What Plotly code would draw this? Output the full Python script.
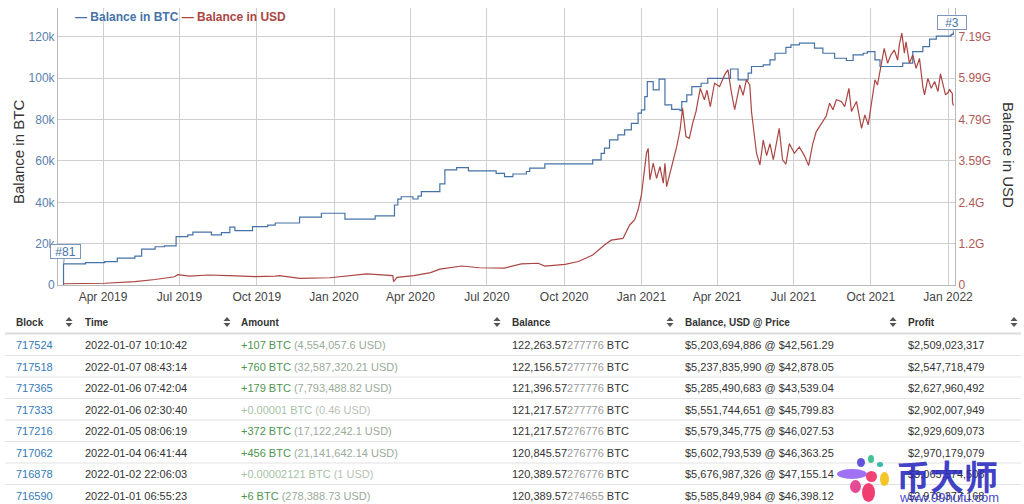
import plotly.graph_objects as go

# ---------------- data ----------------
btc_dates = [
    "2019-02-13", "2019-02-13", "2019-03-11", "2019-04-03", "2019-04-18", "2019-05-09", "2019-05-17",
    "2019-06-02", "2019-06-13", "2019-06-27", "2019-07-11", "2019-07-17", "2019-08-08", "2019-08-20",
    "2019-08-30", "2019-09-05", "2019-09-26", "2019-10-14", "2019-10-23", "2019-11-21", "2019-12-17",
    "2020-01-14", "2020-02-19", "2020-03-13", "2020-03-17", "2020-03-21", "2020-04-04", "2020-04-10",
    "2020-04-14", "2020-05-06", "2020-05-12", "2020-05-26", "2020-06-09", "2020-07-12", "2020-07-22",
    "2020-08-01", "2020-08-17", "2020-08-21", "2020-09-08", "2020-11-04", "2020-11-14", "2020-11-18",
    "2020-11-24", "2020-12-04", "2020-12-12", "2020-12-20", "2020-12-28", "2021-01-01", "2021-01-05",
    "2021-01-08", "2021-01-15", "2021-01-22", "2021-01-29", "2021-02-06", "2021-02-16", "2021-02-18",
    "2021-02-24", "2021-03-02", "2021-03-13", "2021-03-21", "2021-04-17", "2021-04-26", "2021-05-08",
    "2021-05-12", "2021-05-26", "2021-06-03", "2021-06-09", "2021-06-22", "2021-06-28", "2021-07-08",
    "2021-07-26", "2021-08-05", "2021-08-19", "2021-09-02", "2021-09-10", "2021-09-22", "2021-09-27",
    "2021-10-06", "2021-10-12", "2021-11-08", "2021-11-20", "2021-12-02", "2021-12-10", "2021-12-18",
    "2022-01-01 06:55", "2022-01-04 06:41", "2022-01-05 08:06", "2022-01-06 07:42", "2022-01-07 08:43",
    "2022-01-07 10:10",
]
btc_values = [
    0, 10200, 10800, 11300, 13000, 14000, 17400,
    18500, 18900, 23400, 24200, 25600, 24200, 25300,
    28000, 26300, 28200, 29000, 30000, 32800, 34700,
    31900, 33400, 38700, 41500, 42700, 41600, 43000,
    45200, 48900, 55700, 56800, 55200, 54000, 52400,
    53700, 54900, 56500, 58600, 60500, 63700, 66200,
    70200, 72600, 75000, 78200, 83100, 84700, 91100,
    98400, 94400, 99600, 87100, 85000, 84400, 88700,
    92000, 96000, 97600, 100000, 104500, 99200, 102500,
    105700, 106500, 108900, 112100, 115000, 116200, 117000,
    114600, 112100, 109700, 108600, 111300, 112100, 112900,
    108900, 105700, 107300, 112900, 115300, 118900, 120383,
    120389.57, 120845.57, 121217.57, 121396.57, 122156.57,
    122263.57,
]

usd_dates = [
    "2019-02-13", "2019-04-03", "2019-05-09", "2019-06-02", "2019-06-25", "2019-06-29", "2019-07-13",
    "2019-08-04", "2019-08-30", "2019-09-29", "2019-10-23", "2019-10-28", "2019-11-21", "2019-12-27",
    "2020-02-09", "2020-03-11", "2020-03-12", "2020-03-16", "2020-04-05", "2020-04-25", "2020-05-06",
    "2020-06-01", "2020-06-22", "2020-07-16", "2020-07-22", "2020-08-11", "2020-08-31", "2020-09-08",
    "2020-10-02", "2020-10-18", "2020-11-04", "2020-11-18", "2020-11-26", "2020-12-10", "2020-12-18",
    "2020-12-24", "2020-12-28", "2021-01-01", "2021-01-04", "2021-01-07", "2021-01-09", "2021-01-11",
    "2021-01-15", "2021-01-19", "2021-01-23", "2021-01-27", "2021-01-29", "2021-01-31", "2021-02-04",
    "2021-02-08", "2021-02-12", "2021-02-16", "2021-02-19", "2021-02-23", "2021-02-27", "2021-03-03",
    "2021-03-07", "2021-03-12", "2021-03-17", "2021-03-20", "2021-03-24", "2021-03-29", "2021-04-04",
    "2021-04-10", "2021-04-14", "2021-04-18", "2021-04-22", "2021-04-28", "2021-05-02", "2021-05-06",
    "2021-05-10", "2021-05-12", "2021-05-16", "2021-05-18", "2021-05-22", "2021-05-26", "2021-05-30",
    "2021-06-03", "2021-06-07", "2021-06-14", "2021-06-18", "2021-06-22", "2021-06-26", "2021-07-02",
    "2021-07-08", "2021-07-14", "2021-07-19", "2021-07-24", "2021-07-28", "2021-08-01", "2021-08-05",
    "2021-08-09", "2021-08-13", "2021-08-17", "2021-08-21", "2021-08-27", "2021-08-31", "2021-09-05",
    "2021-09-08", "2021-09-14", "2021-09-20", "2021-09-24", "2021-09-28", "2021-10-02", "2021-10-06",
    "2021-10-09", "2021-10-13", "2021-10-17", "2021-10-21", "2021-10-25", "2021-10-29", "2021-11-02",
    "2021-11-04", "2021-11-07", "2021-11-10", "2021-11-12", "2021-11-16", "2021-11-20", "2021-11-24",
    "2021-11-28", "2021-12-02", "2021-12-04", "2021-12-08", "2021-12-12", "2021-12-16", "2021-12-20",
    "2021-12-23", "2021-12-26", "2021-12-29", "2022-01-01 06:55", "2022-01-02 22:06", "2022-01-04 06:41",
    "2022-01-05 08:06", "2022-01-06 02:30", "2022-01-06 07:42", "2022-01-07 08:43", "2022-01-07 10:10",
]
usd_values_g = [
    0.036, 0.05, 0.10, 0.16, 0.24, 0.30, 0.26,
    0.29, 0.27, 0.24, 0.26, 0.27, 0.19, 0.21,
    0.32, 0.27, 0.10, 0.22, 0.27, 0.36, 0.46,
    0.55, 0.50, 0.48, 0.49, 0.61, 0.63, 0.55,
    0.60, 0.68, 0.87, 1.16, 1.30, 1.35, 1.74,
    1.89, 2.18, 2.61, 3.14, 3.82, 3.96, 3.05,
    3.53, 3.09, 3.43, 2.95, 3.53, 2.85, 3.24,
    3.63, 4.01, 4.50, 5.12, 4.30, 4.25, 4.69,
    5.03, 5.70, 5.37, 5.65, 5.17, 5.85, 5.75,
    6.09, 6.24, 5.60, 5.08, 5.80, 5.50, 5.95,
    5.80, 5.03, 4.20, 3.82, 3.48, 4.20, 3.75,
    4.10, 3.63, 4.54, 3.63, 3.50, 4.10, 3.82,
    4.00, 3.75, 3.46, 4.10, 4.44, 4.60, 4.78,
    4.90, 5.27, 5.08, 5.37, 5.32, 5.17, 5.70,
    5.03, 5.32, 4.54, 4.93, 4.64, 5.37, 5.95,
    5.80, 6.38, 6.86, 6.43, 6.67, 6.81, 6.52,
    6.96, 7.30, 6.72, 7.05, 6.43, 6.67, 6.28,
    6.57, 5.75, 5.51, 5.99, 5.70, 5.90, 5.61,
    6.12, 5.80, 5.51, 5.586, 5.677, 5.603,
    5.579, 5.552, 5.285, 5.238, 5.204,
]
usd_values = [v * 1e9 for v in usd_values_g]

btc_ticks = [0, 20000, 40000, 60000, 80000, 100000, 120000]
btc_ticktext = ["0", "20k", "40k", "60k", "80k", "100k", "120k"]
usd_ticktext = ["0", "1.2G", "2.4G", "3.59G", "4.79G", "5.99G", "7.19G"]

flag_first = "#81"
flag_last = "#3"

# table data
col_headers = ["Block", "Time", "Amount", "Balance", "Balance, USD @ Price", "Profit"]
blocks = ["717524", "717518", "717365", "717333", "717216", "717062", "716878", "716590"]
times = ["2022-01-07 10:10:42", "2022-01-07 08:43:14", "2022-01-06 07:42:04", "2022-01-06 02:30:40",
         "2022-01-05 08:06:19", "2022-01-04 06:41:44", "2022-01-02 22:06:03", "2022-01-01 06:55:23"]
amount_btc = ["+107", "+760", "+179", "+0.00001", "+372", "+456", "+0.00002121", "+6"]
amount_usd = ["4,554,057.6", "32,587,320.21", "7,793,488.82", "0.46", "17,122,242.1",
              "21,141,642.14", "1", "278,388.73"]
balance_main = ["122,263.57", "122,156.57", "121,396.57", "121,217.57", "121,217.57",
                "120,845.57", "120,389.57", "120,389.57"]
balance_tail = ["277776", "277776", "277776", "277776", "276776", "276776", "276776", "274655"]
balance_usd = ["$5,203,694,886", "$5,237,835,990", "$5,285,490,683", "$5,551,744,651",
               "$5,579,345,775", "$5,602,793,539", "$5,676,987,326", "$5,585,849,984"]
prices = ["$42,561.29", "$42,878.05", "$43,539.04", "$45,799.83", "$46,027.53",
          "$46,363.25", "$47,155.14", "$46,398.12"]
profits = ["$2,509,023,317", "$2,547,718,479", "$2,627,960,492", "$2,902,007,949",
           "$2,929,609,073", "$2,970,179,079", "$3,065,574,508", "$2,979,377,168"]

# ---------------- styling ----------------
W, H = 1024, 504
BLUE = "#4572A7"
RED = "#AA4643"
GRID = "#cfcfcf"
FONT = "Liberation Sans, Arial, sans-serif"


def px(x):
    return x / W


def py(y):
    return 1 - y / H


K = 7.19e9 / 120000.0  # USD axis aligned to BTC gridlines
Y_MAX = 134000

fig = go.Figure()
fig.add_trace(go.Scatter(x=btc_dates, y=btc_values, mode="lines", name="Balance in BTC",
                         line=dict(color=BLUE, width=1.2, shape="hv"), yaxis="y", xaxis="x"))
fig.add_trace(go.Scatter(x=usd_dates, y=usd_values, mode="lines", name="Balance in USD",
                         line=dict(color=RED, width=1.2), yaxis="y2", xaxis="x"))

# ---------------- table (text cells) ----------------
col_x = [14, 83, 239, 510, 683, 906]
icon_x = [69, 227, 497, 670, 893, 1014]
HEAD_Y = 322
ROW0_Y = 345
ROW_H = 21.5

amount_cells = []
for b, u in zip(amount_btc, amount_usd):
    dust = float(b.replace("+", "")) < 1
    c1 = "#a6c2a6" if dust else "#4e944e"
    c2 = "#b8c2b8" if dust else "#9aab9a"
    amount_cells.append(f"<span style='color:{c1}'>{b} BTC</span> <span style='color:{c2}'>({u} USD)</span>")
balance_cells = [f"{m}<span style='color:#999'>{t}</span> BTC" for m, t in zip(balance_main, balance_tail)]
balusd_cells = [f"{v} @ {p}" for v, p in zip(balance_usd, prices)]
columns = [blocks, times, amount_cells, balance_cells, balusd_cells, profits]
col_colors = ["#337ab7", "#333", "#333", "#333", "#333", "#333"]

annotations = []
for j, h in enumerate(col_headers):
    annotations.append(dict(x=px(col_x[j]), y=py(HEAD_Y), xref="paper", yref="paper",
                            xanchor="left", yanchor="middle", showarrow=False, text=f"<b>{h}</b>",
                            font=dict(family=FONT, size=10, color="#333")))
for j, col in enumerate(columns):
    for i, val in enumerate(col):
        annotations.append(dict(x=px(col_x[j]), y=py(ROW0_Y + ROW_H * i), xref="paper", yref="paper",
                                xanchor="left", yanchor="middle", showarrow=False, text=val,
                                font=dict(family=FONT, size=11, color=col_colors[j])))

shapes = []
shapes.append(dict(type="line", xref="paper", yref="paper", x0=px(5), x1=px(1021),
                   y0=py(333.5), y1=py(333.5), line=dict(color="#dcdcdc", width=2)))
for k in range(1, 8):
    yy = 334 + ROW_H * k
    shapes.append(dict(type="line", xref="paper", yref="paper", x0=px(5), x1=px(1021),
                       y0=py(yy), y1=py(yy), line=dict(color="#e2e2e2", width=1)))
for cx in icon_x:
    cy = HEAD_Y
    up = f"M {px(cx-3.5)} {py(cy-1)} L {px(cx+3.5)} {py(cy-1)} L {px(cx)} {py(cy-5)} Z"
    dn = f"M {px(cx-3.5)} {py(cy+1)} L {px(cx+3.5)} {py(cy+1)} L {px(cx)} {py(cy+5)} Z"
    for p in (up, dn):
        shapes.append(dict(type="path", xref="paper", yref="paper", path=p,
                           fillcolor="#555", line=dict(width=0)))

# watermark flower
petals = [
    (837, 469, 867, 479, "#9a6cf2"),
    (857, 458, 865, 467, "#5a4bd6"),
    (868, 455, 874, 463, "#36c08a"),
    (877, 462, 883, 467, "#2ab3a6"),
    (880, 472, 889, 486, "#f6c21e"),
    (850, 480, 861, 493, "#e6408e"),
    (862, 483, 875, 502, "#f03468"),
    (866, 471, 877, 482, "#f2386c"),
]
for x0, y0, x1, y1, c in petals:
    shapes.append(dict(type="circle", xref="paper", yref="paper", x0=px(x0), x1=px(x1),
                       y0=py(y1), y1=py(y0), fillcolor=c, line=dict(width=0), opacity=0.95))

annotations += [
    dict(x=px(73), y=py(17), xref="paper", yref="paper", xanchor="left", yanchor="middle", showarrow=False,
         text=f"<b><span style='color:{BLUE}'>— Balance in BTC</span> <span style='color:{RED}'>— Balance in USD</span></b>",
         font=dict(family=FONT, size=12)),
    dict(x=px(18), y=py(152), xref="paper", yref="paper", xanchor="center", yanchor="middle",
         showarrow=False, textangle=-90,
         text="Balance in BTC", font=dict(family=FONT, size=15, color="#333")),
    dict(x=px(1009), y=py(155), xref="paper", yref="paper", xanchor="center", yanchor="middle",
         showarrow=False, textangle=90,
         text="Balance in USD", font=dict(family=FONT, size=15, color="#333")),
    dict(x=btc_dates[1], y=btc_values[1], xref="x", yref="y", text=flag_first, showarrow=True,
         arrowhead=0, arrowwidth=1, arrowcolor="#7d97bc", ax=1.5, ay=-12,
         bordercolor="#7d97bc", borderwidth=1, borderpad=1, bgcolor="white", width=27, height=11,
         font=dict(family=FONT, size=12, color=BLUE)),
    dict(x=btc_dates[-1], y=btc_values[-1], xref="x", yref="y", text=flag_last, showarrow=True,
         arrowhead=0, arrowwidth=1, arrowcolor="#7d97bc", ax=-1, ay=-10,
         bordercolor="#7d97bc", borderwidth=1, borderpad=1, bgcolor="white", width=26, height=11,
         font=dict(family=FONT, size=12, color=BLUE)),
    dict(x=px(947), y=py(475), xref="paper", yref="paper", xanchor="center", yanchor="middle",
         showarrow=False, text="<b>币大师</b>",
         font=dict(family="Noto Sans CJK SC", size=34, color="rgba(40,40,190,0.88)")),
    dict(x=px(949), y=py(497), xref="paper", yref="paper", xanchor="center", yanchor="middle",
         showarrow=False, text="www.99hufu.com",
         font=dict(family=FONT, size=13, color="rgba(50,50,200,0.9)")),
]

fig.update_layout(
    template="none",
    width=W, height=H,
    margin=dict(l=0, r=0, t=0, b=0, autoexpand=False),
    paper_bgcolor="white", plot_bgcolor="white",
    showlegend=False,
    font=dict(family=FONT),
    xaxis=dict(domain=[px(58), px(955)], anchor="y", automargin=False,
               range=["2019-02-06 10:00", "2022-01-09 07:00"],
               tickformat="%b %Y", dtick="M3", tick0="2019-04-01",
               showgrid=True, gridcolor=GRID, gridwidth=1,
               showline=True, linecolor="#b8b8b8", linewidth=1, ticks="",
               ticklabelstandoff=1,
               tickfont=dict(size=12, color="#444"), zeroline=False),
    yaxis=dict(domain=[py(285), py(8)], anchor="x", range=[0, Y_MAX], automargin=False,
               tickvals=btc_ticks, ticktext=btc_ticktext,
               showgrid=True, gridcolor=GRID, gridwidth=1, zeroline=False,
               showline=True, linecolor="#b8b8b8", linewidth=1, ticks="",
               tickfont=dict(size=12, color="#5a7fae")),
    yaxis2=dict(overlaying="y", side="right", anchor="x", range=[0, Y_MAX * K], automargin=False,
                tickvals=[v * K for v in btc_ticks], ticktext=usd_ticktext,
                showgrid=False, zeroline=False,
                showline=True, linecolor="#b8b8b8", linewidth=1, ticks="",
                tickfont=dict(size=12, color="#b05a57")),
    shapes=shapes,
    annotations=annotations,
)

fig.write_html("out.html", config={"displayModeBar": False},
               post_script="document.body.style.margin='0';")
